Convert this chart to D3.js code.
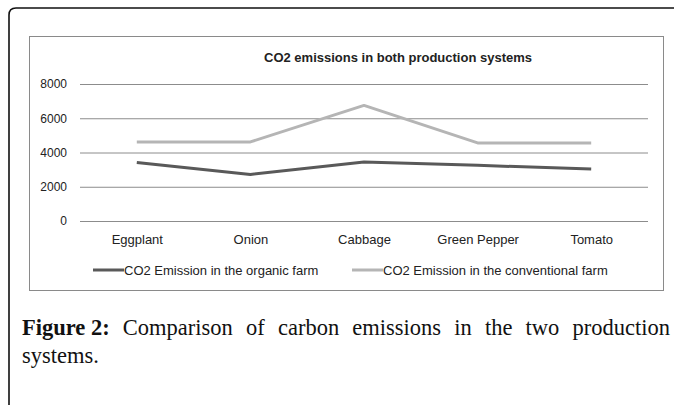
<!DOCTYPE html>
<html>
<head>
<meta charset="utf-8">
<script src="https://cdn.jsdelivr.net/npm/d3@7"></script>
<style>
  body { margin: 0; background: #fff; }
  svg { display: block; }
</style>
</head>
<body>
<div id="chart"></div>
<script>
// data
var categories = ["Eggplant", "Onion", "Cabbage", "Green Pepper", "Tomato"];
var organic = [3420, 2720, 3440, 3250, 3030];
var conventional = [4620, 4620, 6750, 4560, 4550];
var seriesNames = ["CO2 Emission in the organic farm", "CO2 Emission in the conventional farm"];
var yTicks = [0, 2000, 4000, 6000, 8000];
var chartTitle = "CO2 emissions in both production systems";
var captionBold = "Figure 2:";
var captionLine1 = "Comparison of carbon emissions in the two production";
var captionLine2 = "systems.";

var W = 674, H = 405;
var svg = d3.select("#chart").append("svg")
    .attr("width", W)
    .attr("height", H);

// outer frame with rounded top-left corner
svg.append("path")
    .attr("d", "M9,410 L9,15 Q9,8 16,8 L680,8")
    .attr("fill", "none")
    .attr("stroke", "#111")
    .attr("stroke-width", 1.6);

// chart box
svg.append("rect")
    .attr("x", 29.5).attr("y", 36.5)
    .attr("width", 634).attr("height", 254)
    .attr("fill", "#fff")
    .attr("stroke", "#8a8a8a")
    .attr("stroke-width", 1);

var plot = {left: 80, right: 648, top: 84, bottom: 221};

var x = d3.scalePoint()
    .domain(categories)
    .range([plot.left, plot.right])
    .padding(0.5);

var y = d3.scaleLinear()
    .domain([0, 8000])
    .range([plot.bottom, plot.top]);

var font = "'Liberation Sans Narrow', 'Arial Narrow', 'Liberation Sans', sans-serif";

// title
svg.append("text")
    .attr("x", 398).attr("y", 62)
    .attr("text-anchor", "middle")
    .style("font-family", font)
    .style("font-weight", "bold")
    .style("font-size", "13px")
    .attr("fill", "#222")
    .text(chartTitle);

// gridlines + y labels
var yAxis = svg.append("g")
    .attr("transform", "translate(" + plot.left + ",0)")
    .call(d3.axisLeft(y).tickValues(yTicks).tickSize(-(plot.right - plot.left)).tickPadding(13).tickFormat(d3.format("d")));
yAxis.select(".domain").remove();
yAxis.selectAll(".tick line").attr("stroke", "#8c8c8c").attr("stroke-width", 1);
yAxis.selectAll(".tick text")
    .attr("fill", "#222")
    .style("font-family", font)
    .style("font-size", "12px");

// x labels
var xAxis = svg.append("g")
    .attr("transform", "translate(0," + plot.bottom + ")")
    .call(d3.axisBottom(x).tickSize(0).tickPadding(14));
xAxis.select(".domain").remove();
xAxis.selectAll(".tick text")
    .attr("fill", "#222")
    .style("font-family", font)
    .style("font-size", "13px");

// lines
var colors = ["#595959", "#b5b5b5"];
var line = d3.line()
    .x(function(d, i) { return x(categories[i]); })
    .y(function(d) { return y(d); });

[organic, conventional].forEach(function(s, i) {
  svg.append("path")
      .datum(s)
      .attr("d", line)
      .attr("fill", "none")
      .attr("stroke", colors[i])
      .attr("stroke-width", 3)
      .attr("stroke-linejoin", "round");
});

// legend
var legendX = [93, 352];
seriesNames.forEach(function(name, i) {
  var g = svg.append("g").attr("transform", "translate(" + legendX[i] + ",270)");
  g.append("line")
      .attr("x1", 0).attr("x2", 31)
      .attr("y1", 0).attr("y2", 0)
      .attr("stroke", colors[i])
      .attr("stroke-width", 3);
  g.append("text")
      .attr("x", 31).attr("y", 4.5)
      .style("font-family", font)
      .style("font-size", "13px")
      .attr("fill", "#222")
      .text(name);
});

// caption, justified first line
var serif = "'Liberation Serif', 'DejaVu Serif', serif";
var capLeft = 22, capRight = 670, capY1 = 335, capY2 = 363;
var words = [captionBold].concat(captionLine1.split(" "));
var tmp = words.map(function(w, i) {
  return svg.append("text")
      .attr("y", capY1)
      .style("font-family", serif)
      .style("font-size", "22.5px")
      .style("font-weight", i === 0 ? "bold" : "normal")
      .attr("fill", "#111")
      .text(w);
});
var widths = tmp.map(function(t) { return t.node().getComputedTextLength(); });
var gap = (capRight - capLeft - d3.sum(widths)) / (words.length - 1);
var cx = capLeft;
tmp.forEach(function(t, i) {
  t.attr("x", cx);
  cx += widths[i] + gap;
});
svg.append("text")
    .attr("x", capLeft).attr("y", capY2)
    .style("font-family", serif)
    .style("font-size", "22.5px")
    .attr("fill", "#111")
    .text(captionLine2);
</script>
</body>
</html>
